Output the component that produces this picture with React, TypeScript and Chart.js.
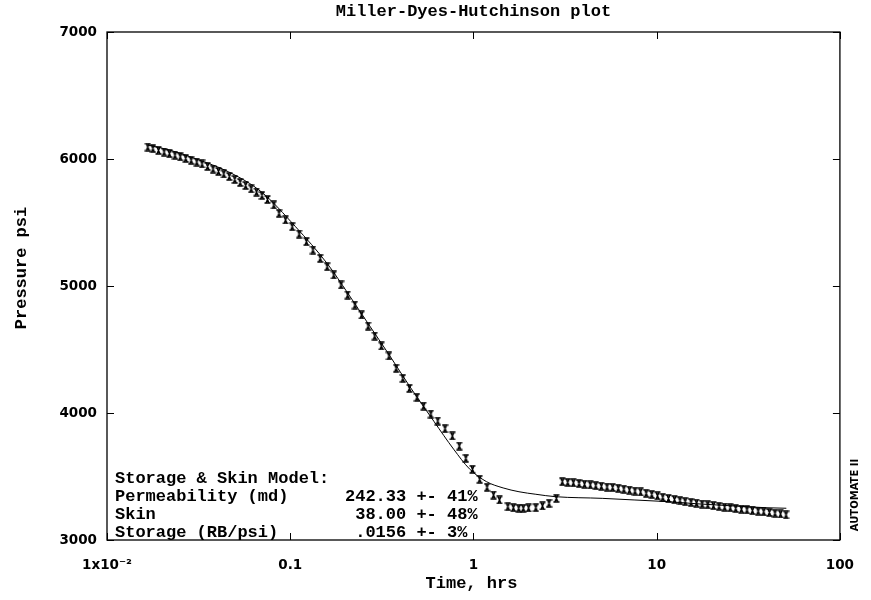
import React, { useEffect, useRef } from "react";
import { Chart, registerables } from "chart.js";

Chart.register(...registerables);

// ---- Data ----
const obsTime = [
  0.0167, 0.0178, 0.0191, 0.0205, 0.0219, 0.0235, 0.0251, 0.0269, 0.0288, 0.0309,
  0.0330, 0.0354, 0.0379, 0.0406, 0.0434, 0.0465, 0.0498, 0.0533, 0.0571, 0.0612,
  0.0655, 0.0701, 0.0751,
  0.0814, 0.0869, 0.0943, 0.1025, 0.1119, 0.1225, 0.1331, 0.1458, 0.1591, 0.1729,
  0.1894, 0.2058, 0.2254, 0.245, 0.2663, 0.2891, 0.3143, 0.3458, 0.3787, 0.4117,
  0.447, 0.4918, 0.5345, 0.5854, 0.6387, 0.6996, 0.767, 0.8369, 0.9086, 0.9875,
  1.081, 1.186, 1.287, 1.387, 1.540, 1.651, 1.766, 1.870, 2.000, 2.190,
  2.381, 2.585, 2.834, 3.054,
  3.27, 3.51, 3.77, 4.04, 4.34, 4.65, 4.99, 5.36, 5.75, 6.17,
  6.62, 7.10, 7.61, 8.17, 8.76, 9.40, 10.1, 10.8, 11.6, 12.5,
  13.4, 14.3, 15.4, 16.5, 17.7, 19.0, 20.4, 21.9, 23.5, 25.2,
  27.0, 29.0, 31.1, 33.3, 35.8, 38.4, 41.2, 44.2, 47.4, 50.8,
];
const obsPressure = [
  6094, 6082, 6068, 6055, 6042, 6030, 6017, 6004, 5990, 5976,
  5961, 5941, 5921, 5902, 5882, 5862, 5839, 5815, 5791, 5765,
  5740, 5713, 5681,
  5638, 5572, 5520, 5467, 5409, 5349, 5283, 5218, 5152, 5087,
  5008, 4929, 4850, 4772, 4685, 4606, 4528, 4449, 4352, 4273,
  4194, 4124, 4055, 3992, 3937, 3876, 3819, 3740, 3643, 3557,
  3478, 3415, 3354, 3315, 3262, 3254, 3250, 3250, 3252, 3254,
  3268, 3289, 3328, 3459,
  3454, 3450, 3445, 3439, 3434, 3428, 3423, 3417, 3413, 3407,
  3400, 3393, 3385, 3378, 3368, 3358, 3348, 3336, 3327, 3318,
  3310, 3302, 3296, 3290, 3283, 3277, 3271, 3265, 3259, 3254,
  3248, 3243, 3237, 3231, 3227, 3222, 3217, 3211, 3205, 3198,
];
const modelTime = [
  0.0167, 0.0219, 0.0307, 0.0462, 0.0697, 0.1064, 0.1605, 0.2058, 0.2673, 0.3471,
  0.4509, 0.6079, 0.7795, 0.9513, 1.176, 1.452, 1.772, 2.19, 2.809, 5.043,
  7.606, 11.47, 17.51, 26.41, 39.82, 51.0,
];
const modelPressure = [
  6110, 6071, 6000, 5898, 5740, 5470, 5170, 4945, 4700, 4457,
  4205, 3935, 3715, 3560, 3460, 3410, 3380, 3360, 3341, 3328,
  3315, 3302, 3283, 3268, 3254, 3250,
];
const xTickValues = [0.01, 0.1, 1, 10, 100];
const xTickLabels = ["1x10\u207B\u00B2", "0.1", "1", "10", "100"];
const yTickValues = [3000, 4000, 5000, 6000, 7000];

const titleText = "Miller-Dyes-Hutchinson plot";
const xTitle = "Time, hrs";
const yTitle = "Pressure psi";
const sideText = "AUTOMATE II";
const resultLabels = ["Storage & Skin Model:", "Permeability (md)", "Skin", "Storage (RB/psi)"];
const resultValues = ["", "242.33 +- 41%", " 38.00 +- 48%", " .0156 +- 3%"];

const MONO = "'Liberation Mono', 'DejaVu Sans Mono', monospace";
const SANS = "'DejaVu Sans', sans-serif";

export default function App() {
  const ref = useRef<HTMLCanvasElement | null>(null);

  useEffect(() => {
    const canvas = ref.current;
    if (!canvas) return;

    // marker glyph: serif "x"
    const mk = document.createElement("canvas");
    mk.width = 7;
    mk.height = 9;
    const m = mk.getContext("2d")!;
    m.strokeStyle = "#000";
    m.lineWidth = 1.5;
    m.beginPath();
    m.moveTo(0.5, 1); m.lineTo(6.5, 1);
    m.moveTo(0.5, 8); m.lineTo(6.5, 8);
    m.moveTo(2, 1); m.lineTo(5, 8);
    m.moveTo(5, 1); m.lineTo(2, 8);
    m.stroke();

    const decor = {
      id: "decor",
      beforeDraw(chart: any) {
        const c = chart.ctx;
        c.save();
        c.fillStyle = "#fff";
        c.fillRect(0, 0, chart.width, chart.height);
        c.restore();
      },
      afterDraw(chart: any) {
        const c = chart.ctx;
        const a = chart.chartArea;
        const xs = chart.scales.x;
        const ys = chart.scales.y;
        c.save();
        c.strokeStyle = "#000";
        c.lineWidth = 1.3;
        c.strokeRect(a.left, a.top, a.right - a.left, a.bottom - a.top);
        c.lineWidth = 1;
        c.beginPath();
        xTickValues.forEach((v) => {
          const px = Math.round(xs.getPixelForValue(v)) + 0.5;
          c.moveTo(px, a.bottom); c.lineTo(px, a.bottom - 7);
          c.moveTo(px, a.top); c.lineTo(px, a.top + 7);
        });
        yTickValues.forEach((v) => {
          const py = Math.round(ys.getPixelForValue(v)) + 0.5;
          c.moveTo(a.left, py); c.lineTo(a.left + 7, py);
          c.moveTo(a.right, py); c.lineTo(a.right - 7, py);
        });
        c.stroke();

        c.fillStyle = "#000";
        c.font = `bold 17px ${MONO}`;
        c.textAlign = "center";
        c.textBaseline = "middle";
        c.fillText(titleText, (a.left + a.right) / 2, 12);
        c.fillText(xTitle, (a.left + a.right) / 2 - 2, 584);
        c.save();
        c.translate(22, 268);
        c.rotate(-Math.PI / 2);
        c.fillText(yTitle, 0, 0);
        c.restore();

        c.textAlign = "left";
        const rowY = [479, 497, 515, 533];
        resultLabels.forEach((t, i) => {
          c.fillText(t, 115, rowY[i]);
          if (resultValues[i]) c.fillText(resultValues[i], 345, rowY[i]);
        });

        c.save();
        c.font = `bold 10px ${SANS}`;
        c.textAlign = "center";
        c.translate(855, 495);
        c.rotate(-Math.PI / 2);
        c.fillText(sideText, 0, 0);
        c.restore();
        c.restore();
      },
    };

    const chart = new Chart(canvas, {
      type: "scatter",
      data: {
        datasets: [
          {
            type: "line",
            label: "Model",
            data: modelTime.map((t, i) => ({ x: t, y: modelPressure[i] })),
            borderColor: "#000",
            borderWidth: 1,
            pointRadius: 0,
            cubicInterpolationMode: "monotone",
            fill: false,
          } as any,
          {
            type: "scatter",
            label: "Observed",
            data: obsTime.map((t, i) => ({ x: t, y: obsPressure[i] })),
            pointStyle: mk as any,
            pointRadius: 4,
            showLine: false,
          } as any,
        ],
      },
      options: {
        responsive: false,
        animation: false,
        events: [],
        layout: { padding: { top: 32, right: 24, left: 0, bottom: 0 } },
        plugins: { legend: { display: false }, tooltip: { enabled: false }, title: { display: false } },
        scales: {
          x: {
            type: "logarithmic",
            min: 0.01,
            max: 100,
            grid: { display: false, drawTicks: false },
            border: { display: false },
            afterBuildTicks: (s: any) => {
              s.ticks = xTickValues.map((v) => ({ value: v }));
            },
            afterFit: (s: any) => {
              s.height = 60;
            },
            ticks: {
              autoSkip: false,
              maxRotation: 0,
              padding: 17,
              color: "#000",
              font: { family: SANS, size: 13.5, weight: "bold" },
              callback: (v: any) => {
                const i = xTickValues.findIndex((t) => Math.abs(t - Number(v)) < 1e-9);
                return i >= 0 ? xTickLabels[i] : "";
              },
            },
          },
          y: {
            type: "linear",
            min: 3000,
            max: 7000,
            grid: { display: false, drawTicks: false },
            border: { display: false },
            afterFit: (s: any) => {
              s.width = 107;
            },
            ticks: {
              stepSize: 1000,
              padding: 10,
              color: "#000",
              font: { family: SANS, size: 13.5, weight: "bold" },
              callback: (v: any) => String(v),
            },
          },
        },
      },
      plugins: [decor],
    } as any);

    return () => chart.destroy();
  }, []);

  return (
    <div style={{ position: "fixed", left: 0, top: 0, width: 871, height: 600, background: "#fff" }}>
      <canvas ref={ref} width={871} height={600} style={{ display: "block" }} />
    </div>
  );
}
